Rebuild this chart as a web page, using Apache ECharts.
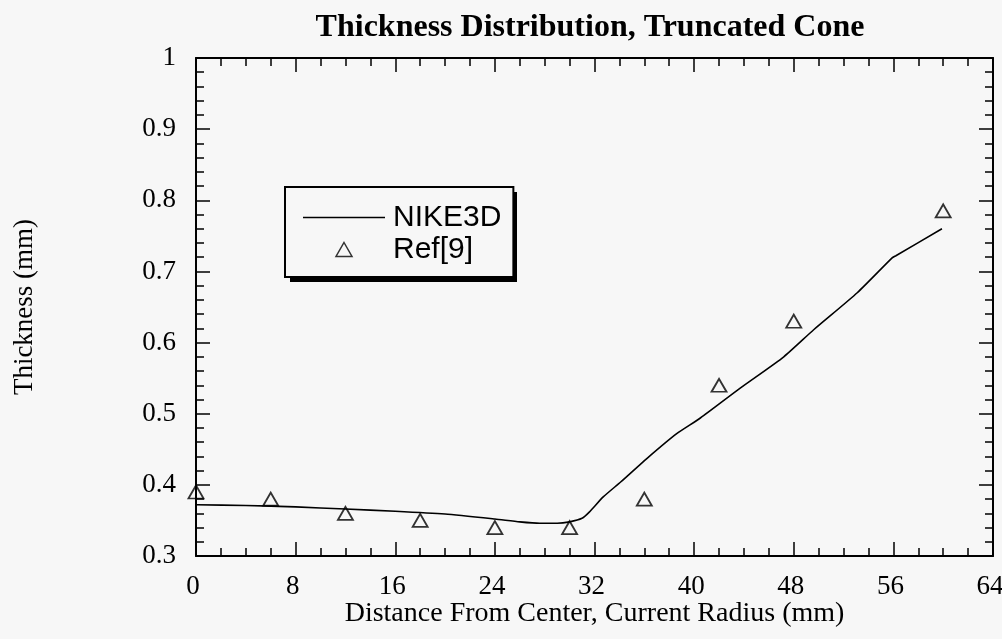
<!DOCTYPE html>
<html>
<head>
<meta charset="utf-8">
<script src="https://cdn.jsdelivr.net/npm/echarts@6/dist/echarts.min.js"></script>
<style>
html,body{margin:0;padding:0;background:#f7f7f7;}
#c{width:1002px;height:639px;}
</style>
</head>
<body>
<div id="c"></div>
<script>
// NIKE3D simulation curve: [distance (mm), thickness (mm)]
const nikeX = [0, 4, 8, 12, 16, 20, 24, 26, 27.6, 29, 30, 31, 31.6, 32.7, 34.1, 36.2, 38.6, 40.5, 43.7, 47.2, 49.6, 53.1, 55.9, 56.2, 59.9];
const nikeY = [0.372, 0.371, 0.369, 0.366, 0.363, 0.359, 0.352, 0.348, 0.346, 0.346, 0.348, 0.353, 0.362, 0.383, 0.404, 0.437, 0.472, 0.494, 0.536, 0.580, 0.618, 0.670, 0.719, 0.722, 0.760];
// Ref[9] data
const refX = [0, 6, 12, 18, 24, 30, 36, 42, 48, 60];
const refY = [0.39, 0.38, 0.36, 0.35, 0.34, 0.34, 0.38, 0.54, 0.63, 0.785];
const xTicks = [0, 8, 16, 24, 32, 40, 48, 56, 64];
const yTicks = [0.3, 0.4, 0.5, 0.6, 0.7, 0.8, 0.9, 1];

const serif = '"Liberation Serif","DejaVu Serif",serif';
const sans = '"Liberation Sans","DejaVu Sans",sans-serif';

const chart = echarts.init(document.getElementById('c'), null, {renderer: 'canvas'});
const axisLine = {show: true, onZero: false, lineStyle: {color: '#000', width: 2}};
const tickStyle = {color: '#000', width: 1.5};

const baseX = {
  type: 'value', min: xTicks[0], max: xTicks[xTicks.length - 1], interval: 8,
  axisLine: axisLine,
  axisTick: {show: true, inside: true, length: 14, lineStyle: tickStyle},
  minorTick: {show: true, splitNumber: 4, length: 8, lineStyle: tickStyle},
  splitLine: {show: false}
};
const baseY = {
  type: 'value', min: yTicks[0], max: yTicks[yTicks.length - 1], interval: 0.1,
  axisLine: axisLine,
  axisTick: {show: true, inside: true, length: 14, lineStyle: tickStyle},
  minorTick: {show: true, splitNumber: 5, length: 8, lineStyle: tickStyle},
  splitLine: {show: false}
};

chart.setOption({
  backgroundColor: '#f7f7f7',
  animation: false,
  title: {
    text: 'Thickness Distribution, Truncated Cone',
    left: 585, top: 7, textAlign: 'center',
    textStyle: {fontFamily: serif, fontWeight: 'bold', fontSize: 32, color: '#000'}
  },
  grid: {left: 196, top: 58, right: 9, bottom: 83, containLabel: false, outerBoundsMode: 'none'},
  graphic: [{
    type: 'rect', z: 3, silent: true,
    shape: {x: 290, y: 192, width: 227, height: 90},
    style: {fill: '#000'}
  }],
  legend: {
    orient: 'vertical',
    left: 285, top: 187, z: 5,
    padding: [15, 12, 12, 18],
    itemWidth: 82, itemHeight: 14, itemGap: 1,
    symbolKeepAspect: true,
    backgroundColor: '#f7f7f7',
    borderColor: '#000', borderWidth: 2, borderRadius: 0,
    textStyle: {fontFamily: sans, fontSize: 30, lineHeight: 31, color: '#000', padding: [0, 0, 0, 3]},
    data: [
      {name: 'NIKE3D', icon: 'path://M0,0 L82,0 L82,1.5 L0,1.5 Z', itemStyle: {color: '#000'}},
      {name: 'Ref[9]', icon: 'path://M8,0 L16,14 L0,14 Z', itemStyle: {color: 'rgba(0,0,0,0)', borderColor: '#000', borderWidth: 1.5}}
    ]
  },
  xAxis: [
    Object.assign({}, baseX, {
      position: 'bottom',
      name: 'Distance From Center, Current Radius (mm)',
      nameLocation: 'middle', nameGap: 44, nameMoveOverlap: false,
      nameTextStyle: {fontFamily: serif, fontSize: 28, color: '#000'},
      axisLabel: {show: true, margin: 17, fontFamily: serif, fontSize: 27, color: '#000', padding: [0, 6, 0, 0],
        formatter: v => xTicks.indexOf(v) >= 0 ? String(v) : ''}
    }),
    Object.assign({}, baseX, {position: 'top', axisLabel: {show: false}})
  ],
  yAxis: [
    Object.assign({}, baseY, {
      position: 'left',
      name: 'Thickness (mm)',
      nameLocation: 'middle', nameGap: 158, nameRotate: 90,
      nameTextStyle: {fontFamily: serif, fontSize: 27, color: '#000'},
      axisLabel: {show: true, margin: 20, fontFamily: serif, fontSize: 27, color: '#000',
        formatter: v => { const r = Math.round(v * 10) / 10; return r === 1 ? '1' : r.toFixed(1); }}
    }),
    Object.assign({}, baseY, {position: 'right', axisLabel: {show: false}})
  ],
  series: [
    {
      name: 'NIKE3D', type: 'line', xAxisIndex: 0, yAxisIndex: 0,
      data: nikeX.map((x, i) => [x, nikeY[i]]),
      symbol: 'none', smooth: 0.2,
      lineStyle: {color: '#000', width: 1.6},
      itemStyle: {color: '#000'}
    },
    {
      name: 'Ref[9]', type: 'scatter', xAxisIndex: 0, yAxisIndex: 0,
      data: refX.map((x, i) => [x, refY[i]]),
      symbol: 'triangle', symbolSize: [15, 13],
      itemStyle: {color: 'rgba(0,0,0,0)', borderColor: '#000', borderWidth: 1.8}
    }
  ]
});
</script>
</body>
</html>
